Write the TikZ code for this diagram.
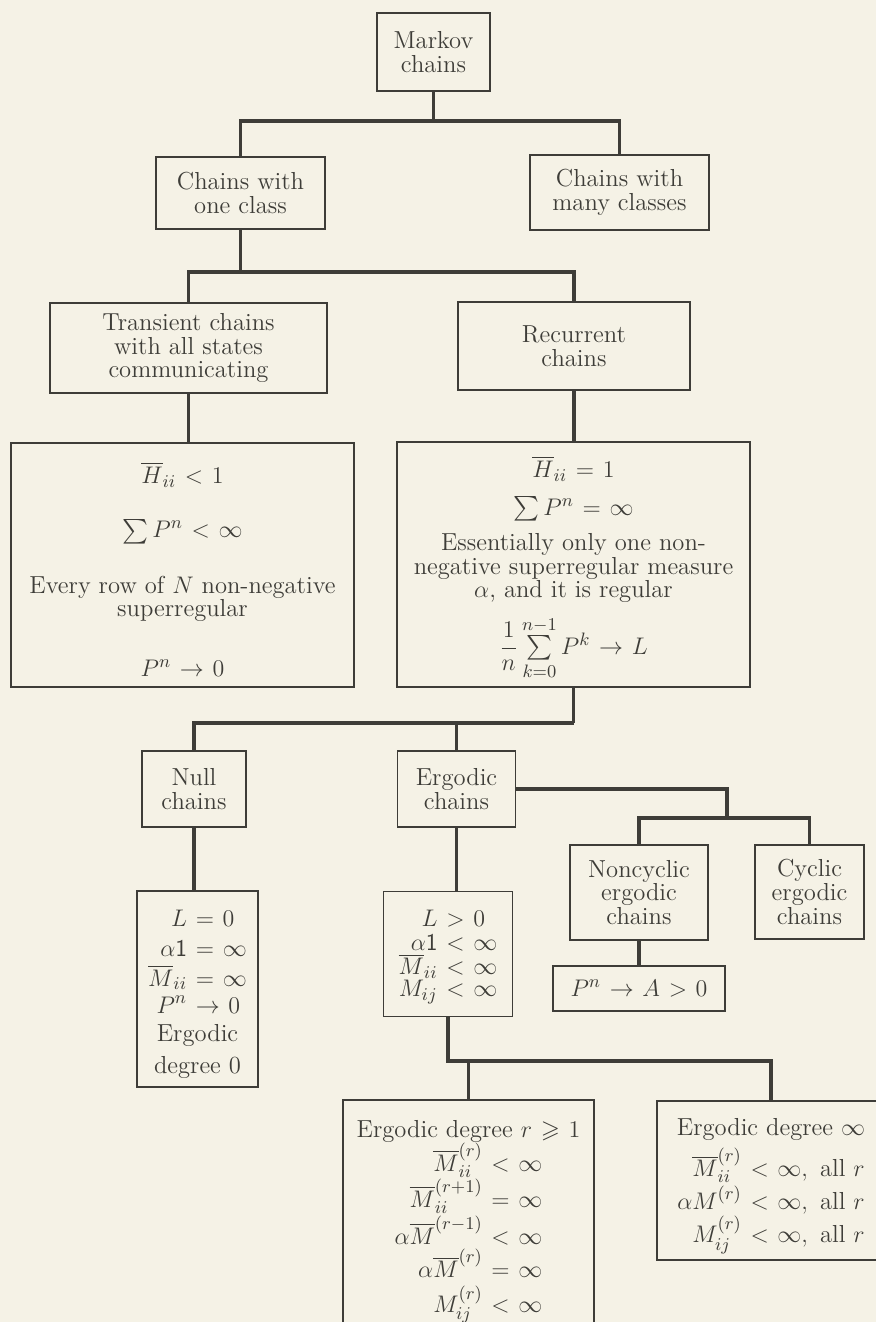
\documentclass[tikz,border=0pt]{standalone}
\usepackage{amsmath,amssymb}
\usepackage{xcolor}
\usepackage{tikz}
\usetikzlibrary{calc}
\definecolor{ink}{RGB}{62,61,56}
\definecolor{paper}{RGB}{245,242,230}
\thickmuskip=6.5mu plus 5mu
\tikzset{
  chain/.style={draw=ink,line width=0.85pt,text=ink,align=center,inner sep=2pt,font=\fontsize{12.3}{11.8}\selectfont},
  facts/.style={chain},
  link/.style={draw=ink,line width=1.7pt},
}

\begin{document}
\begin{tikzpicture}[x=0.5pt,y=-0.5pt]
  \useasboundingbox (0,0) rectangle (876,1322);
  \fill[paper] (0,0) rectangle (876,1322);
  % classes of chains
  \node[chain,minimum width=56.5pt,minimum height=39pt] (markov) at (433.5,52) {Markov\\chains};
  \node[chain,minimum width=84.5pt,minimum height=36pt] (one) at (240.5,193) {Chains with\\one class};
  \node[chain,minimum width=89.5pt,minimum height=37.5pt] (many) at (619.5,192.5) {Chains with\\many classes};
  \node[chain,minimum width=138.5pt,minimum height=45pt] (trans) at (188.5,348) {Transient chains\\with all states\\communicating};
  \node[chain,minimum width=116pt,minimum height=44pt] (recur) at (574,346) {Recurrent\\chains};
  \node[chain,minimum width=52pt,minimum height=38pt] (null) at (194,789) {Null\\chains};
  \node[chain,minimum width=59pt,minimum height=38pt] (erg) at (456.5,789) {Ergodic\\chains};
  \node[chain,minimum width=69pt,minimum height=47.5pt] (noncyc) at (639,892.5) {Noncyclic\\ergodic\\chains};
  \node[chain,minimum width=54.5pt,minimum height=47pt] (cyc) at (809.5,892) {Cyclic\\ergodic\\chains};
  % properties
  \node[facts,minimum width=171.5pt,minimum height=122pt] (transbox) at (182.5,565) {%
    \rule{0pt}{15pt}$\overline{H}_{ii} < 1$\\[15pt]
    $\sum P^n < \infty$\\[15pt]
    Every row of $N$ non-negative\\superregular\\[18pt]
    $P^n \to 0$};
  \node[facts,minimum width=176.5pt,minimum height=122.5pt] (recbox) at (573.5,564.5) {%
    \rule{0pt}{14pt}$\overline{H}_{ii} = 1$\\[7pt]
    $\sum P^n = \infty$\\[6pt]
    Essentially only one non-\\negative superregular measure\\$\alpha$, and it is regular\\[6pt]
    $\dfrac{1}{n}\sum\limits_{k=0}^{n-1} P^k \to L$};
  \node[facts,minimum width=86pt,minimum height=22.5pt] (limA) at (639,988.5) {$P^n \to A > 0$};
  \node[facts,minimum width=60.5pt,minimum height=98pt] (nullbox) at (197.5,989) {%
    \raisebox{0pt}[\dimexpr\height+5pt]{$\begin{aligned} L &= 0\\[0.5pt] \alpha\mathsf{1} &= \infty\\[-3.5pt] \overline{M}_{ii} &= \infty\\[-2.5pt] P^n &\to 0\end{aligned}$}\\[1pt]
    Ergodic\\[4pt]degree 0};
  \node[facts,minimum width=64.5pt,minimum height=62.5pt] (ergbox) at (448,954) {%
    \raisebox{0pt}[\dimexpr\height+3pt]{$\begin{aligned} L &> 0\\[-3pt] \alpha\mathsf{1} &< \infty\\[-6pt] \overline{M}_{ii} &< \infty\\[-4pt] M_{ij} &< \infty\end{aligned}$}};
  \node[facts,minimum width=125.5pt,minimum height=122pt] (degr) at (468.5,1222) {%
    Ergodic degree $r \geqslant 1$\\[-1pt]
    $\begin{aligned} \overline{M}^{(r)}_{ii} &< \infty\\[-3.5pt] \overline{M}^{(r+1)}_{ii} &= \infty\\[-3.5pt] \alpha\overline{M}^{(r-1)} &< \infty\\[-5pt] \alpha\overline{M}^{(r)} &= \infty\\[-3.5pt] M^{(r)}_{ij} &< \infty\end{aligned}$};
  \node[facts,minimum width=114pt,minimum height=79.5pt] (deginf) at (771,1180.5) {%
    \rule{0pt}{14pt}Ergodic degree $\infty$\\[3pt]
    $\begin{aligned} \overline{M}^{(r)}_{ii} &< \infty, \text{ all } r\\[-3pt] \alpha M^{(r)} &< \infty, \text{ all } r\\[-4pt] M^{(r)}_{ij} &< \infty, \text{ all } r\end{aligned}$};
  % connectors
  \coordinate (lv1) at (0,121);
  \coordinate (lv2) at (0,272);
  \coordinate (lv3) at (0,723);
  \coordinate (lv4) at (727,818);
  \coordinate (lv5) at (0,1061);
  \draw[link] (markov.south) -- (markov.south |- lv1);
  \draw[link] (one.north) |- (many.north |- lv1) -- (many.north);
  \draw[link] (one.south) -- (one.south |- lv2);
  \draw[link] (trans.north) |- (recur.north |- lv2) -- (recur.north);
  \draw[link] (trans.south) -- (trans.south |- transbox.north);
  \draw[link] (recur.south) -- (recur.south |- recbox.north);
  \draw[link] (recbox.south) -- (recbox.south |- lv3);
  \draw[link] (null.north) |- (recbox.south |- lv3);
  \draw[link] (erg.north) -- (erg.north |- lv3);
  \draw[link] (erg.east) -| (lv4);
  \draw[link] (noncyc.north) |- (cyc.north |- lv4) -- (cyc.north);
  \draw[link] (noncyc.south) -- (noncyc.south |- limA.north);
  \draw[link] (null.south) -- (null.south |- nullbox.north);
  \draw[link] (erg.south) -- (erg.south |- ergbox.north);
  \draw[link] (ergbox.south) |- (deginf.north |- lv5) -- (deginf.north);
  \draw[link] (degr.north) -- (degr.north |- lv5);
\end{tikzpicture}
\end{document}
